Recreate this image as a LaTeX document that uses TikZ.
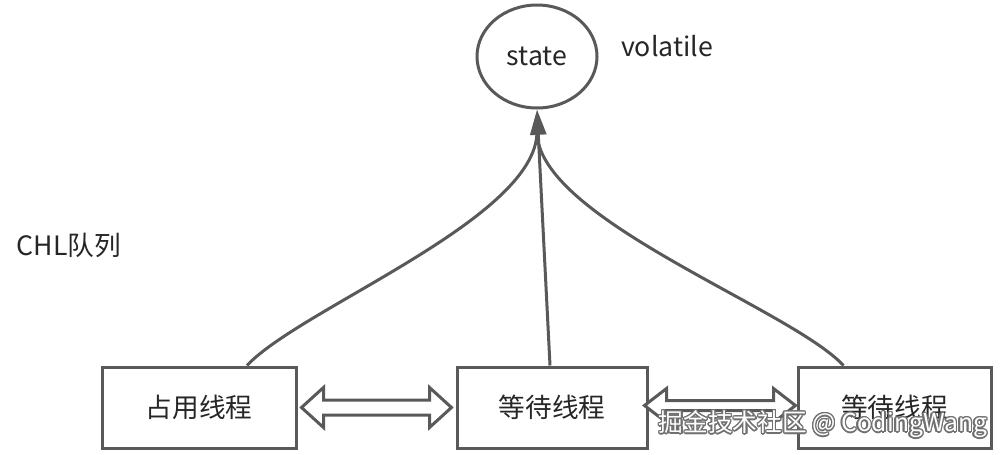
\documentclass[tikz,border=0pt]{standalone}
\usepackage{fontspec}
\setmainfont{Noto Sans CJK SC}
\usepackage{contour}
\contourlength{1pt}
\contournumber{16}
\usetikzlibrary{arrows.meta,calc,shapes.geometric}
\definecolor{linegray}{HTML}{595959}
\definecolor{textgray}{HTML}{262626}
\definecolor{wmgray}{HTML}{707070}
\tikzset{
  lbl/.style={text=textgray,font=\fontsize{20pt}{24pt}\selectfont,inner sep=0pt},
  thread/.style={draw=linegray,line width=2.25pt,minimum height=60.75pt,inner sep=0pt,lbl},
  conn/.style={draw=linegray,line width=2.25pt},
  dbl/.style={draw=linegray,line width=2.25pt,line join=miter,fill=white},
}
\begin{document}
\begin{tikzpicture}[x=0.75pt,y=-0.75pt]
\useasboundingbox (0,0) rectangle (1006,454);
% nodes
\node[ellipse,draw=linegray,line width=2.25pt,minimum width=90pt,minimum height=77.25pt,inner sep=0pt,lbl] (state) at (537,56.5) {state};
\node[lbl,anchor=center] (vol) at (667,46) {volatile};
\node[lbl,anchor=center] (chl) at (69,245) {CHL队列};
\node[thread,minimum width=145.5pt] (b1) at (199,407.5) {占用线程};
\node[thread,minimum width=142.5pt] (b2) at (552,407.5) {等待线程};
\node[thread,minimum width=144.75pt] (b3) at (894.5,407.5) {等待线程};
% connectors to state
\coordinate (meet) at ($(state.south)+(0,22)$);
\draw[conn] ($(b1.north)+(48,0)$) .. controls ($(b1.north)+(101,-57)$) and ($(meet)+(0,87)$) .. (meet);
\draw[conn] ($(b3.north)+(-51,0)$) .. controls ($(b3.north)+(-104,-57)$) and ($(meet)+(0,87)$) .. (meet);
\draw[conn,-{Triangle[length=19pt,width=12pt]}] ($(b2.north)+(-2,0)$) -- (state.south);
% double arrows
\coordinate (l1) at ($(b1.east)+(4,0)$);
\coordinate (r1) at ($(b2.west)+(-4,0)$);
\draw[dbl] (l1) -- ++(22,-20) -- ++(0,12.5) -- ($(r1)+(-22,-7.5)$) -- ++(0,-12.5) -- (r1)
  -- ++(-22,20) -- ++(0,-12.5) -- ($(l1)+(22,7.5)$) -- ++(0,12.5) -- cycle;
\coordinate (l2) at ($(b2.east)+(-4,-2)$);
\coordinate (r2) at ($(b3.west)+(-1,-2)$);
\draw[dbl] (l2) -- ++(22,-17) -- ++(0,12) -- ($(r2)+(-22,-5)$) -- ++(0,-12) -- (r2)
  -- ++(-22,17) -- ++(0,-12) -- ($(l2)+(22,5)$) -- ++(0,12) -- cycle;
% watermark
\node[inner sep=0pt,font=\fontsize{18.5pt}{20pt}\selectfont] (wm) at (823,425) {\contour{wmgray}{\color{white}掘金技术社区 @ CodingWang}};
\end{tikzpicture}
\end{document}
